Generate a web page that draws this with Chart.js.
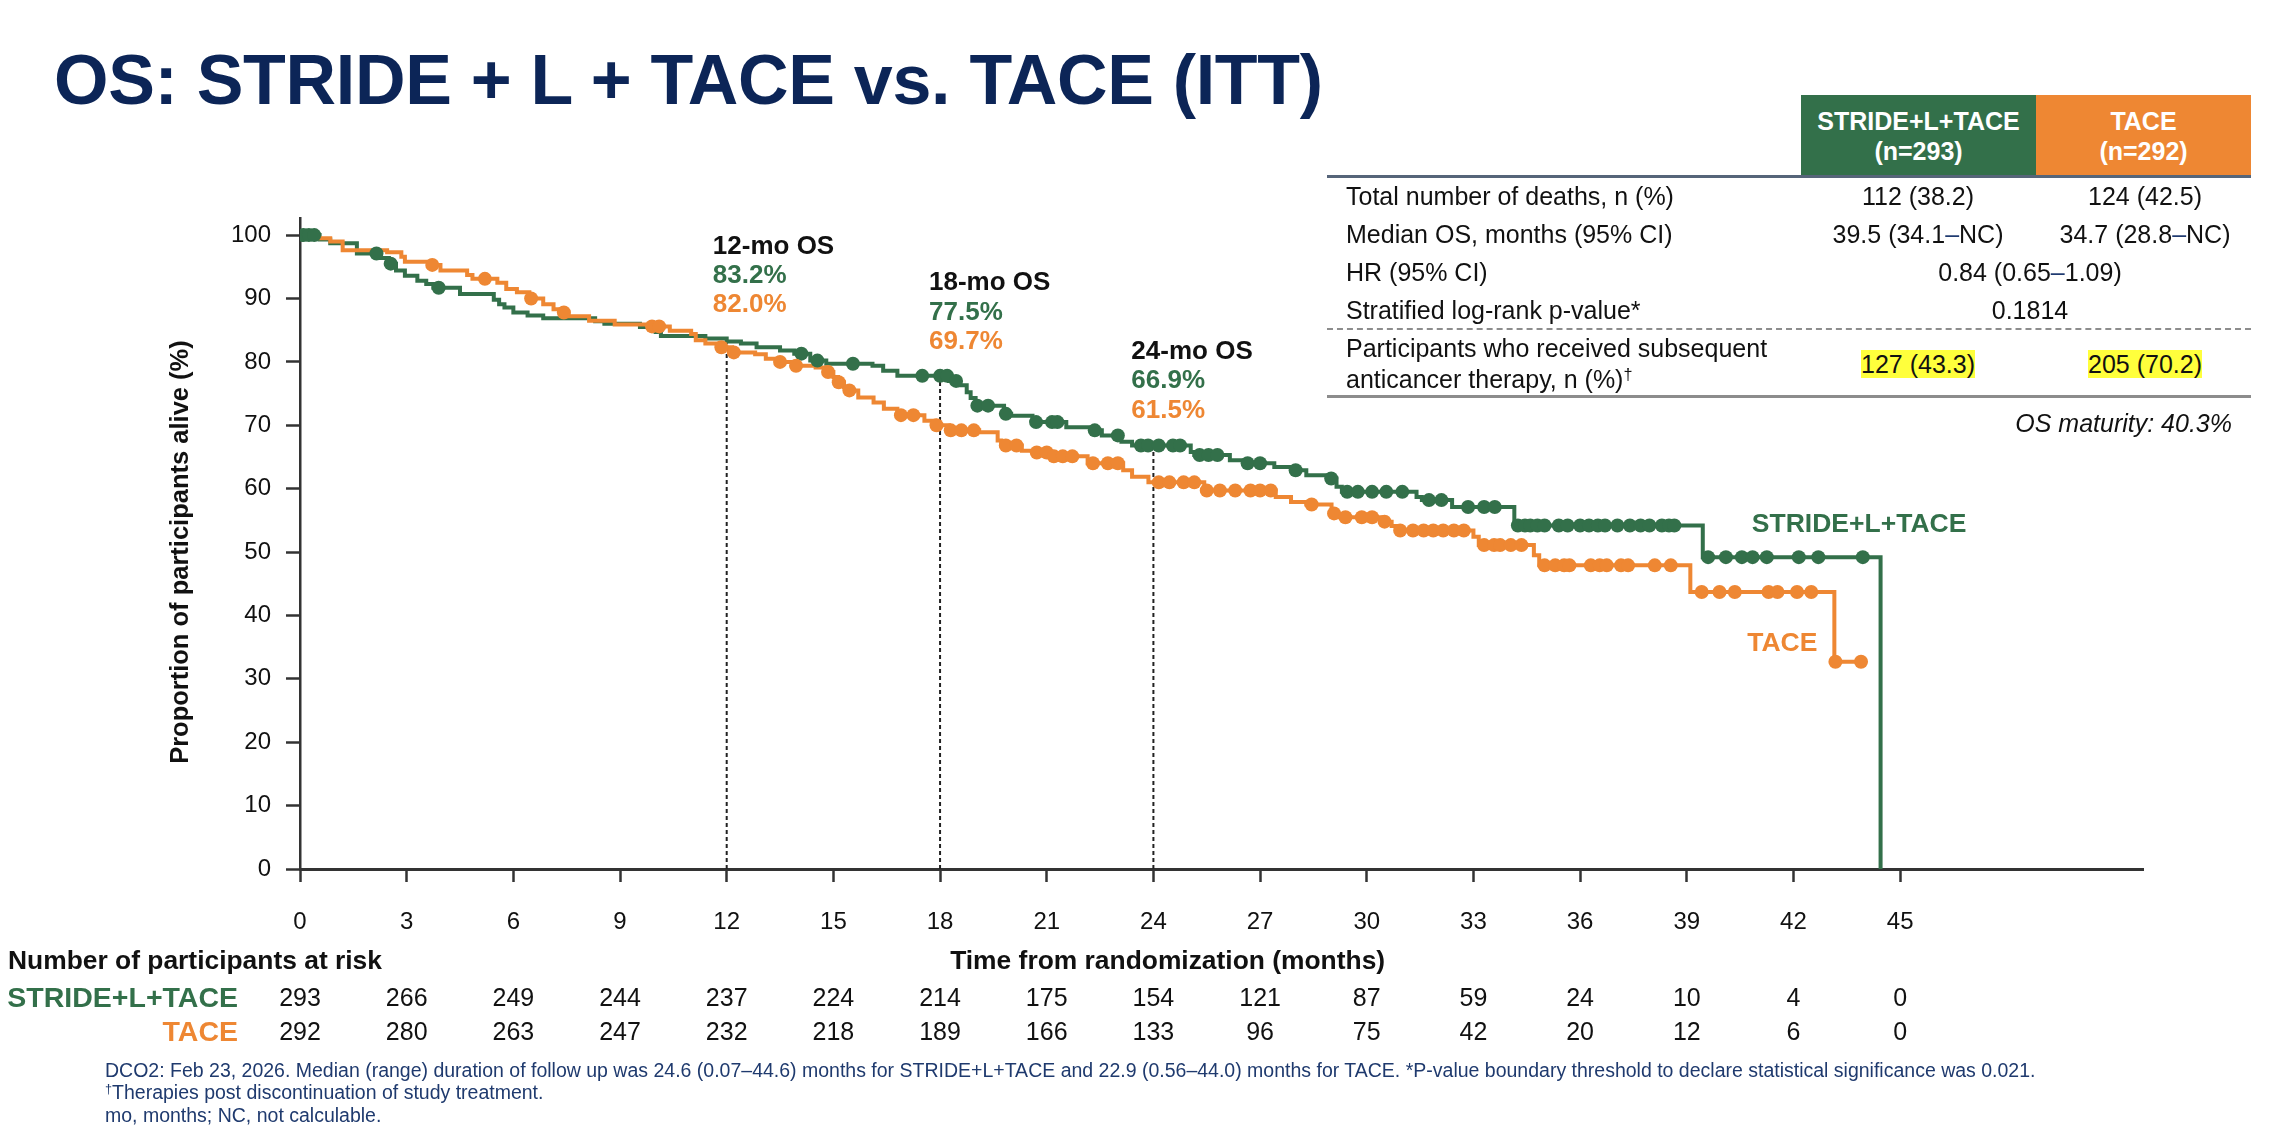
<!DOCTYPE html>
<html>
<head>
<meta charset="utf-8">
<script src="https://cdn.jsdelivr.net/npm/chart.js@4.4.1/dist/chart.umd.min.js"></script>
<style>
  html, body { margin:0; padding:0; background:#fff; }
  body { width:2270px; height:1146px; position:relative; overflow:hidden;
         font-family:"Liberation Sans", Arial, Helvetica, sans-serif; color:#111; }
  #c { position:absolute; left:0; top:0; }
  .abs { position:absolute; white-space:nowrap; }
  .hdr { color:#fff; font-weight:bold; font-size:25px; line-height:25px; text-align:center; }
  .row { font-size:25px; line-height:25px; color:#111; }
  .val { font-size:25px; line-height:25px; color:#111; text-align:center; width:300px; }
  .hl { background:#ffff3c; }
  .dash { color:#1f3a70; }
  .fn { font-size:19.5px; line-height:20px; color:#1f3a6e; left:105px; }
  sup { font-size:0.65em; line-height:0; vertical-align:0.5em; }
</style>
</head>
<body>
<canvas id="c" width="2270" height="1146"></canvas>

<div class="abs" style="left:54px;top:45px;font-size:70px;line-height:70px;letter-spacing:-0.3px;font-weight:bold;color:#0c2557;">OS: STRIDE + L + TACE vs. TACE (ITT)</div>

<!-- summary table -->
<div class="abs" style="left:1801px;top:95px;width:235px;height:81px;background:#33704a;"></div>
<div class="abs" style="left:2036px;top:95px;width:215px;height:81px;background:#ee8733;"></div>
<div class="abs hdr" style="left:1801px;top:109px;width:235px;">STRIDE+L+TACE</div>
<div class="abs hdr" style="left:1801px;top:139px;width:235px;">(n=293)</div>
<div class="abs hdr" style="left:2036px;top:109px;width:215px;">TACE</div>
<div class="abs hdr" style="left:2036px;top:139px;width:215px;">(n=292)</div>
<div class="abs" style="left:1327px;top:175px;width:924px;height:3px;background:#566579;"></div>

<div class="abs row" style="left:1346px;top:184px;">Total number of deaths, n (%)</div>
<div class="abs val" style="left:1768px;top:184px;">112 (38.2)</div>
<div class="abs val" style="left:1995px;top:184px;">124 (42.5)</div>

<div class="abs row" style="left:1346px;top:222px;">Median OS, months (95% CI)</div>
<div class="abs val" style="left:1768px;top:222px;">39.5 (34.1<span class="dash">–</span>NC)</div>
<div class="abs val" style="left:1995px;top:222px;">34.7 (28.8<span class="dash">–</span>NC)</div>

<div class="abs row" style="left:1346px;top:260px;">HR (95% CI)</div>
<div class="abs val" style="left:1880px;top:260px;">0.84 (0.65<span class="dash">–</span>1.09)</div>

<div class="abs row" style="left:1346px;top:298px;">Stratified log-rank p-value*</div>
<div class="abs val" style="left:1880px;top:298px;">0.1814</div>

<div class="abs" style="left:1327px;top:328px;width:924px;height:0;border-top:2px dashed #8d8d8d;"></div>

<div class="abs row" style="left:1346px;top:336px;">Participants who received subsequent</div>
<div class="abs row" style="left:1346px;top:367px;">anticancer therapy, n (%)<sup>†</sup></div>
<div class="abs val" style="left:1768px;top:352px;"><span class="hl">127 (43.3)</span></div>
<div class="abs val" style="left:1995px;top:352px;"><span class="hl">205 (70.2)</span></div>

<div class="abs" style="left:1327px;top:395px;width:924px;height:3px;background:#8c8c8c;"></div>
<div class="abs row" style="right:38px;top:411px;font-style:italic;">OS maturity: 40.3%</div>

<!-- footnotes -->
<div class="abs fn" style="top:1060px;">DCO2: Feb 23, 2026. Median (range) duration of follow up was 24.6 (0.07–44.6) months for STRIDE+L+TACE and 22.9 (0.56–44.0) months for TACE. *P-value boundary threshold to declare statistical significance was 0.021.</div>
<div class="abs fn" style="top:1082px;"><sup>†</sup>Therapies post discontinuation of study treatment.</div>
<div class="abs fn" style="top:1105px;">mo, months; NC, not calculable.</div>

<script>
// ---------------- data ----------------
const strideTimes = [0, 0.55, 0.85, 1.6, 2.25, 2.5, 2.7, 2.95, 3.3, 3.55, 3.75, 4.5, 5.45, 5.6, 5.75, 6.0, 6.4, 6.84, 8.3, 8.56, 9.56, 10.0, 10.15, 11.4, 12.0, 12.4, 12.84, 13.5, 13.9, 14.35, 14.8, 16.1, 16.4, 16.8, 18.25, 18.55, 18.75, 18.86, 19.0, 19.8, 20.0, 20.6, 21.55, 22.3, 22.55, 23.1, 23.4, 25.05, 25.15, 26.15, 26.55, 27.4, 27.9, 28.3, 28.9, 29.15, 29.3, 31.4, 31.55, 32.4, 34.15, 39.45, 44.45];
const strideSurv  = [100, 99.3, 98.7, 97.1, 96.4, 95.5, 94.4, 93.6, 92.8, 92.3, 91.7, 90.7, 89.8, 89.1, 88.6, 87.8, 87.3, 86.9, 86.4, 86.0, 85.5, 84.7, 84.1, 83.7, 83.2, 82.9, 82.3, 81.8, 81.3, 80.2, 79.7, 79.4, 78.6, 77.8, 77.0, 76.3, 75.2, 74.3, 73.1, 71.8, 71.5, 70.5, 69.7, 69.2, 68.4, 67.4, 66.8, 65.8, 65.3, 64.5, 64.0, 63.4, 62.9, 62.1, 61.6, 60.3, 59.5, 58.7, 58.2, 57.1, 54.2, 49.2, 0];
const strideCensor = [0.1, 0.25, 0.4, 2.15, 2.55, 3.9, 14.1, 14.55, 15.55, 17.5, 18.0, 18.2, 18.45, 19.05, 19.35, 19.85, 20.7, 21.15, 21.3, 22.35, 23.0, 23.65, 23.85, 24.15, 24.55, 24.75, 25.3, 25.55, 25.8, 26.65, 27.0, 28.0, 29.0, 29.45, 29.75, 30.15, 30.55, 31.0, 31.75, 32.1, 32.85, 33.3, 33.6, 34.25, 34.45, 34.6, 34.8, 35.0, 35.4, 35.65, 36.0, 36.25, 36.5, 36.7, 37.05, 37.4, 37.7, 37.95, 38.3, 38.5, 38.65, 39.6, 40.1, 40.55, 40.85, 41.25, 42.15, 42.7, 43.95];

const taceTimes = [0, 0.53, 0.85, 1.2, 2.45, 2.85, 2.95, 3.68, 3.95, 4.7, 4.85, 5.55, 5.8, 6.1, 6.45, 6.84, 7.13, 7.4, 7.55, 8.13, 8.85, 9.85, 10.4, 11.0, 11.13, 11.4, 11.75, 12.15, 12.8, 13.1, 13.45, 13.9, 14.5, 14.8, 15.0, 15.13, 15.3, 15.42, 15.7, 16.13, 16.42, 16.8, 17.56, 17.85, 18.25, 19.1, 19.62, 19.72, 20.3, 20.7, 21.15, 22.15, 23.15, 23.4, 23.86, 25.43, 27.44, 27.87, 28.3, 29.01, 29.15, 30.44, 30.7, 30.87, 33.0, 33.15, 34.7, 34.85, 39.1, 43.15, 43.9];
const taceSurv  = [100, 99.5, 99.0, 97.6, 97.3, 96.6, 95.8, 95.3, 94.4, 93.7, 93.1, 92.5, 91.5, 91.0, 90.0, 89.1, 88.3, 87.8, 87.2, 86.5, 85.9, 85.6, 84.9, 84.4, 83.4, 82.9, 82.3, 81.5, 81.2, 80.5, 80.0, 79.4, 79.1, 78.4, 77.6, 76.8, 76.0, 75.5, 74.4, 73.6, 72.6, 71.6, 70.7, 70.0, 69.2, 68.9, 67.6, 66.8, 66.0, 65.7, 65.1, 64.0, 62.9, 61.9, 61.0, 59.7, 58.7, 57.9, 57.5, 56.1, 55.5, 54.8, 54.1, 53.4, 52.4, 51.1, 49.5, 47.9, 43.7, 32.7, 32.7];
const taceCensor = [3.72, 5.2, 6.5, 7.42, 9.9, 10.1, 11.85, 12.2, 13.5, 13.95, 14.85, 15.15, 15.45, 16.9, 17.25, 17.9, 18.3, 18.6, 18.95, 19.85, 20.15, 20.72, 21.0, 21.2, 21.45, 21.72, 22.3, 22.72, 23.0, 24.15, 24.45, 24.85, 25.15, 25.5, 25.87, 26.3, 26.73, 27.0, 27.3, 28.45, 29.08, 29.4, 29.86, 30.15, 30.5, 30.94, 31.3, 31.6, 31.87, 32.15, 32.45, 32.73, 33.3, 33.58, 33.75, 34.05, 34.35, 35.0, 35.3, 35.55, 35.7, 36.3, 36.55, 36.75, 37.15, 37.35, 38.1, 38.55, 39.42, 39.92, 40.35, 41.3, 41.55, 42.1, 42.5, 43.18, 43.9];

const milestoneMonths = [12, 18, 24];
const strideMilestone = [83.2, 77.5, 66.9];
const taceMilestone   = [82.0, 69.7, 61.5];

const xTicks = [0, 3, 6, 9, 12, 15, 18, 21, 24, 27, 30, 33, 36, 39, 42, 45];
const yTicks = [0, 10, 20, 30, 40, 50, 60, 70, 80, 90, 100];
const riskMonths   = [0, 3, 6, 9, 12, 15, 18, 21, 24, 27, 30, 33, 36, 39, 42, 45];
const strideAtRisk = [293, 266, 249, 244, 237, 224, 214, 175, 154, 121, 87, 59, 24, 10, 4, 0];
const taceAtRisk   = [292, 280, 263, 247, 232, 218, 189, 166, 133, 96, 75, 42, 20, 12, 6, 0];

const armNames = ['STRIDE+L+TACE', 'TACE'];

// ---------------- style ----------------
const GREEN = '#33704a';
const ORANGE = '#ee8733';
const FONT = '"Liberation Sans", Arial, Helvetica, sans-serif';
Chart.defaults.font.family = FONT;

function survAt(times, surv, t) {
  let v = surv[0];
  for (let i = 0; i < times.length; i++) { if (times[i] <= t) v = surv[i]; else break; }
  return v;
}
const pts = (times, surv) => times.map((t, i) => ({ x: t, y: surv[i] }));
const cens = (times, surv, c) => c.map(t => ({ x: t, y: survAt(times, surv, t) }));

const datasets = [];
milestoneMonths.forEach((m, i) => {
  datasets.push({
    type: 'line', data: [{ x: m, y: 0 }, { x: m, y: strideMilestone[i] }],
    borderColor: '#222', borderWidth: 2, borderDash: [4, 3], pointRadius: 0, order: 10
  });
});
datasets.push({ type: 'line', label: armNames[0], data: pts(strideTimes, strideSurv), stepped: 'before',
  borderColor: GREEN, borderWidth: 4, pointRadius: 0, fill: false, order: 8 });
datasets.push({ type: 'line', label: armNames[1], data: pts(taceTimes, taceSurv), stepped: 'before',
  borderColor: ORANGE, borderWidth: 4, pointRadius: 0, fill: false, order: 7 });
datasets.push({ type: 'scatter', data: cens(strideTimes, strideSurv, strideCensor),
  backgroundColor: GREEN, borderWidth: 0, pointRadius: 7, order: 6 });
datasets.push({ type: 'scatter', data: cens(taceTimes, taceSurv, taceCensor),
  backgroundColor: ORANGE, borderWidth: 0, pointRadius: 7, order: 5 });

const textPlugin = {
  id: 'kmText',
  afterDraw(chart) {
    const { ctx, chartArea } = chart;
    const xs = chart.scales.x, ys = chart.scales.y;
    ctx.save();
    ctx.textBaseline = 'middle';

    // milestone annotations
    const annX = [11.61, 17.69, 23.38];
    const annY = [98.2, 92.4, 81.6];
    ctx.font = 'bold 26px ' + FONT;
    ctx.textAlign = 'left';
    milestoneMonths.forEach((m, i) => {
      const px = xs.getPixelForValue(annX[i]);
      const py = ys.getPixelForValue(annY[i]);
      ctx.fillStyle = '#111';  ctx.fillText(m + '-mo OS', px, py);
      ctx.fillStyle = GREEN;   ctx.fillText(strideMilestone[i].toFixed(1) + '%', px, py + 29.3);
      ctx.fillStyle = ORANGE;  ctx.fillText(taceMilestone[i].toFixed(1) + '%', px, py + 58.6);
    });

    // curve labels
    ctx.font = 'bold 26.5px ' + FONT;
    ctx.fillStyle = GREEN;  ctx.fillText(armNames[0], xs.getPixelForValue(40.83), ys.getPixelForValue(54.3));
    ctx.fillStyle = ORANGE; ctx.fillText(armNames[1], xs.getPixelForValue(40.7), ys.getPixelForValue(35.5));

    // y axis title
    ctx.save();
    ctx.translate(181, ys.getPixelForValue(50));
    ctx.rotate(-Math.PI / 2);
    ctx.textAlign = 'center';
    ctx.fillStyle = '#111';
    ctx.font = 'bold 25.5px ' + FONT;
    ctx.fillText('Proportion of participants alive (%)', 0, 0);
    ctx.restore();

    // x axis title and at-risk table
    const b = chartArea.bottom;
    ctx.font = 'bold 26.4px ' + FONT;
    ctx.fillStyle = '#111';
    ctx.textAlign = 'center';
    ctx.fillText('Time from randomization (months)', xs.getPixelForValue(24.4), b + 92.7);
    ctx.textAlign = 'left';
    ctx.fillText('Number of participants at risk', 8, b + 92.7);

    ctx.font = 'bold 28.5px ' + FONT;
    ctx.textAlign = 'right';
    ctx.fillStyle = GREEN;  ctx.fillText(armNames[0], 238, b + 130);
    ctx.fillStyle = ORANGE; ctx.fillText(armNames[1], 238, b + 164.5);

    ctx.font = '25px ' + FONT;
    ctx.fillStyle = '#111';
    ctx.textAlign = 'center';
    riskMonths.forEach((m, i) => {
      const px = xs.getPixelForValue(m);
      ctx.fillText(String(strideAtRisk[i]), px, b + 130);
      ctx.fillText(String(taceAtRisk[i]), px, b + 164.5);
    });
    ctx.restore();
  }
};

new Chart(document.getElementById('c'), {
  type: 'line',
  data: { datasets },
  options: {
    responsive: false,
    animation: false,
    devicePixelRatio: 1,
    layout: { padding: { top: 218, right: 127, left: 0, bottom: 0 } },
    plugins: { legend: { display: false }, tooltip: { enabled: false } },
    elements: { line: { tension: 0 } },
    scales: {
      x: {
        type: 'linear', min: 0, max: 51.83,
        afterBuildTicks: ax => { ax.ticks = xTicks.map(v => ({ value: v })); },
        afterFit: ax => { ax.height = 277; },
        grid: { display: true, drawOnChartArea: false, drawTicks: true, tickLength: 13, tickWidth: 2.5, tickColor: '#333' },
        border: { display: true, color: '#333', width: 3 },
        ticks: { font: { size: 24 }, color: '#111', padding: 26, maxRotation: 0, autoSkip: false }
      },
      y: {
        type: 'linear', min: 0, max: 102.7,
        afterBuildTicks: ax => { ax.ticks = yTicks.map(v => ({ value: v })); },
        afterFit: ax => { ax.width = 300; },
        grid: { display: true, drawOnChartArea: false, drawTicks: true, tickLength: 14, tickWidth: 2.5, tickColor: '#333' },
        border: { display: true, color: '#333', width: 2.5 },
        ticks: { font: { size: 24 }, color: '#111', padding: 15, autoSkip: false }
      }
    }
  },
  plugins: [textPlugin]
});
</script>
</body>
</html>
